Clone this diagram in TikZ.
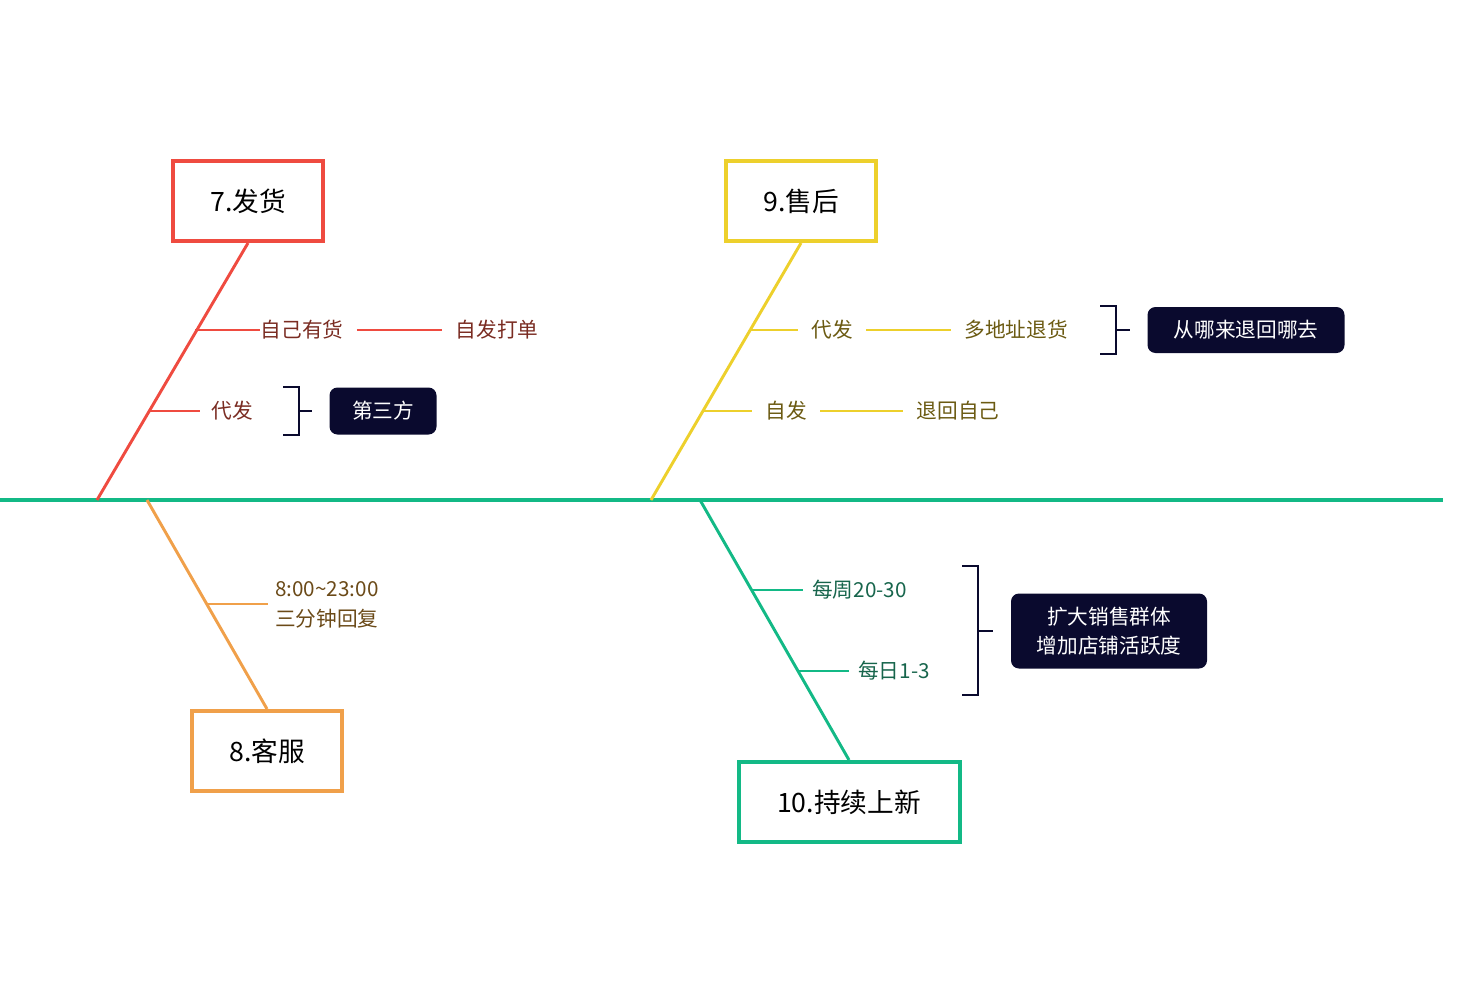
\documentclass[tikz,border=0pt]{standalone}
\usepackage{fontspec}
\setmainfont{Noto Sans CJK SC}
\definecolor{cred}{HTML}{EF4B40}
\definecolor{cyel}{HTML}{EDD02C}
\definecolor{cora}{HTML}{F0A04A}
\definecolor{cgrn}{HTML}{13B986}
\definecolor{navy}{HTML}{0A0A2E}
\definecolor{tred}{HTML}{7A2C22}
\definecolor{tyel}{HTML}{6B5A12}
\definecolor{tora}{HTML}{6B4A18}
\definecolor{tgrn}{HTML}{17654C}
\begin{document}
\begin{tikzpicture}[x=0.75pt,y=-0.75pt,
  title/.style={draw,line width=3pt,minimum width=150*0.75pt,minimum height=80*0.75pt,font=\fontsize{20}{24}\selectfont,inner sep=0pt},
  lab/.style={font=\fontsize{15.5}{20}\selectfont,inner sep=0pt},
  tag/.style={fill=navy,text=white,rounded corners=6pt,font=\fontsize{15.5}{22}\selectfont,align=center,inner sep=0pt},
  br/.style={line width=2.2pt},
  brk/.style={line width=2pt,navy}]
\useasboundingbox (0,0) rectangle (1460,1006);
% spine
\coordinate (s0) at (0,500); \coordinate (s1) at (1443,500);
\draw[cgrn,line width=3pt] (s0) -- (s1);
% red
\node[title,cred,text=black] (t7) at (248,201) {7.发货};
\coordinate (r0) at (97,500);
\draw[cred,br] (r0) -- (t7.south);
\coordinate (r1) at (195,330); \coordinate (r2) at (148,411);
\node[lab,text=tred] (a1) at (302,330) {自己有货};
\node[lab,text=tred] (a2) at (497,330) {自发打单};
\node[lab,text=tred] (a3) at (232,411) {代发};
\draw[cred,br] (r1) -- (a1.west) ++(-10,0);
\draw[cred,br] (r1) -- ([xshift=-10]a1.west);
\draw[cred,br] ([xshift=10]a1.east) -- ([xshift=-10]a2.west);
\draw[cred,br] (r2) -- ([xshift=-8]a3.west);
\node[tag,minimum width=107*0.75pt,minimum height=47*0.75pt] (b1) at (383,411) {第三方};
\draw[brk] (283,387) -- (299,387) -- (299,435) -- (283,435) (299,411) -- (312,411);
% yellow
\node[title,cyel,text=black] (t9) at (801,201) {9.售后};
\coordinate (y0) at (651,500);
\draw[cyel,br] (y0) -- (t9.south);
\coordinate (y1) at (749,330); \coordinate (y2) at (702,411);
\node[lab,text=tyel] (c1) at (832,330) {代发};
\node[lab,text=tyel] (c2) at (1016,330) {多地址退货};
\node[lab,text=tyel] (c3) at (786,411) {自发};
\node[lab,text=tyel] (c4) at (958,411) {退回自己};
\draw[cyel,br] (y1) -- ([xshift=-10]c1.west);
\draw[cyel,br] ([xshift=10]c1.east) -- ([xshift=-10]c2.west);
\draw[cyel,br] (y2) -- ([xshift=-10]c3.west);
\draw[cyel,br] ([xshift=10]c3.east) -- ([xshift=-10]c4.west);
\node[tag,minimum width=197*0.75pt,minimum height=46*0.75pt] (b2) at (1246,330) {从哪来退回哪去};
\draw[brk] (1100,306) -- (1116,306) -- (1116,354) -- (1100,354) (1116,330) -- (1130,330);
% orange
\node[title,cora,text=black] (t8) at (267,751) {8.客服};
\coordinate (o0) at (147,500);
\draw[cora,br] (o0) -- (t8.north);
\coordinate (o1) at (206,604);
\node[lab,text=tora,align=left,anchor=west,font=\fontsize{15.5}{23}\selectfont] (d1) at (275,605) {8:00\textasciitilde23:00\\三分钟回复};
\draw[cora,br] (o1) -- (268,604);
% green
\node[title,cgrn,text=black,minimum width=221*0.75pt] (t10) at (849,802) {10.持续上新};
\coordinate (g0) at (700,500);
\draw[cgrn,br] (g0) -- (t10.north);
\coordinate (g1) at (751,590); \coordinate (g2) at (797,671);
\node[lab,text=tgrn,anchor=west] (e1) at (812,590) {每周20-30};
\node[lab,text=tgrn,anchor=west] (e2) at (858,671) {每日1-3};
\draw[cgrn,br] (g1) -- ([xshift=-7]e1.west);
\draw[cgrn,br] (g2) -- ([xshift=-7]e2.west);
\node[tag,minimum width=196*0.75pt,minimum height=75*0.75pt] (b3) at (1109,631) {扩大销售群体\\增加店铺活跃度};
\draw[brk] (962,566) -- (978,566) -- (978,695) -- (962,695) (978,631) -- (993,631);
\end{tikzpicture}
\end{document}
